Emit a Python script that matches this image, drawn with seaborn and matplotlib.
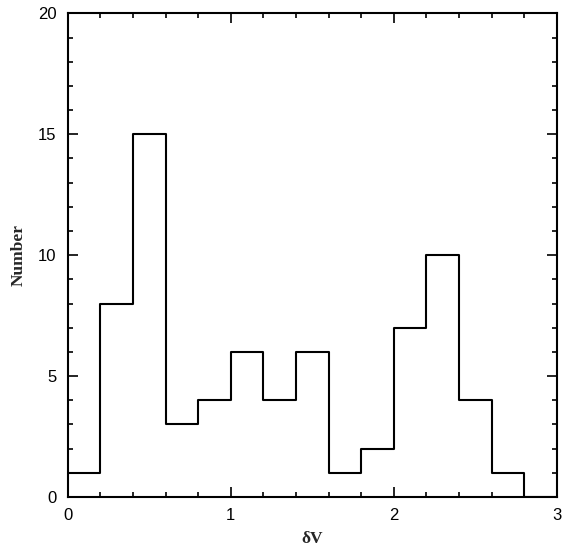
import numpy as np
import matplotlib
matplotlib.use("Agg")
import matplotlib.pyplot as plt
import seaborn as sns
from matplotlib.ticker import MultipleLocator

bin_edges = [0.0, 0.2, 0.4, 0.6, 0.8, 1.0, 1.2, 1.4, 1.6, 1.8, 2.0, 2.2, 2.4, 2.6, 2.8, 3.0]
counts = [1, 8, 15, 3, 4, 6, 4, 6, 1, 2, 7, 10, 4, 1, 0]
centers = [(a + b) / 2 for a, b in zip(bin_edges[:-1], bin_edges[1:])]

sns.set_theme(style="ticks")
plt.rcParams['font.family'] = ['Liberation Sans', 'DejaVu Sans']

fig = plt.figure(figsize=(5.7, 5.49), dpi=100)
ax = fig.add_axes([0.119, 0.0947, 0.858, 0.881])

sns.histplot(x=centers, weights=counts, bins=bin_edges, element="step", fill=False,
             color="black", linewidth=1.5, ax=ax)

ax.set_xlim(0, 3)
ax.set_ylim(0, 20)
ax.xaxis.set_major_locator(MultipleLocator(1))
ax.xaxis.set_minor_locator(MultipleLocator(0.2))
ax.yaxis.set_major_locator(MultipleLocator(5))
ax.yaxis.set_minor_locator(MultipleLocator(1))
ax.tick_params(which="both", direction="in", top=True, right=True, colors="black",
               labelsize=12, width=1.2)
ax.tick_params(which="major", length=7, pad=8)
ax.tick_params(which="minor", length=3.5)
for s in ax.spines.values():
    s.set_linewidth(1.5)
    s.set_color("black")

ax.set_xlabel("δV", fontfamily=["Liberation Serif", "DejaVu Serif"], fontweight="bold", fontsize=12.5, labelpad=6)
ax.set_ylabel("Number", fontfamily=["Liberation Serif", "DejaVu Serif"], fontweight="bold", fontsize=12.5, labelpad=8)

fig.savefig("out.png", dpi=100)
